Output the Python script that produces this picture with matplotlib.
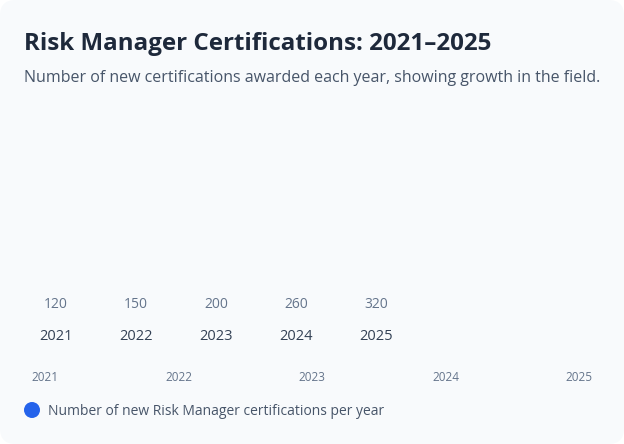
import matplotlib.pyplot as plt
from matplotlib.patches import FancyBboxPatch, Ellipse

plt.rcParams['font.family'] = ['Open Sans', 'DejaVu Sans']

years = [2021, 2022, 2023, 2024, 2025]
year_labels = ['2021', '2022', '2023', '2024', '2025']
certifications = [120, 150, 200, 260, 320]
series_name = 'Number of new Risk Manager certifications per year'

W, H = 624, 444
fig = plt.figure(figsize=(W / 100, H / 100), dpi=100)
fig.patch.set_facecolor('white')

# card background
card = FancyBboxPatch((0, 0), 1, 1, boxstyle='round,pad=0,rounding_size=0.025',
                      transform=fig.transFigure, facecolor='#f8fafc',
                      edgecolor='none', mutation_aspect=W / H, zorder=-10)
fig.patches.append(card)

fig.text(24 / W, 1 - 44 / H, 'Risk Manager Certifications: 2021\u20132025',
         fontsize=17.4, fontweight='bold', color='#1e293b', va='center')
fig.text(24 / W, 1 - 78 / H,
         'Number of new certifications awarded each year, showing growth in the field.',
         fontsize=11.5, color='#475569', va='center')

# value + year labels (bars never drawn, only their labels)
ax_lab = fig.add_axes([16 / W, 0, 400 / W, 1])
ax_lab.set_xlim(-0.5, len(years) - 0.5)
ax_lab.set_ylim(0, 1)
ax_lab.axis('off')
for i, (y, v) in enumerate(zip(year_labels, certifications)):
    ax_lab.text(i, 1 - 304 / H, str(v), fontsize=10, color='#64748b',
                ha='center', va='center')
    ax_lab.text(i, 1 - 336 / H, y, fontsize=10.5, color='#334155',
                ha='center', va='center')

# x axis
ax = fig.add_axes([45 / W, 1 - 366 / H, (579 - 45) / W, 0.01])
ax.set_xlim(years[0], years[-1])
ax.set_xticks(years)
ax.set_xticklabels(year_labels, fontsize=8.5, color='#64748b')
ax.set_yticks([])
ax.tick_params(axis='x', length=0, pad=3.3)
for s in ax.spines.values():
    s.set_visible(False)
ax.patch.set_alpha(0)

# legend
fig.patches.append(Ellipse((32 / W, 1 - 410 / H), 16 / W, 16 / H,
                           transform=fig.transFigure, facecolor='#2563eb',
                           edgecolor='none'))
fig.text(48 / W, 1 - 411 / H, series_name, fontsize=10, color='#475569', va='center')

fig.savefig('out.png', dpi=100)
